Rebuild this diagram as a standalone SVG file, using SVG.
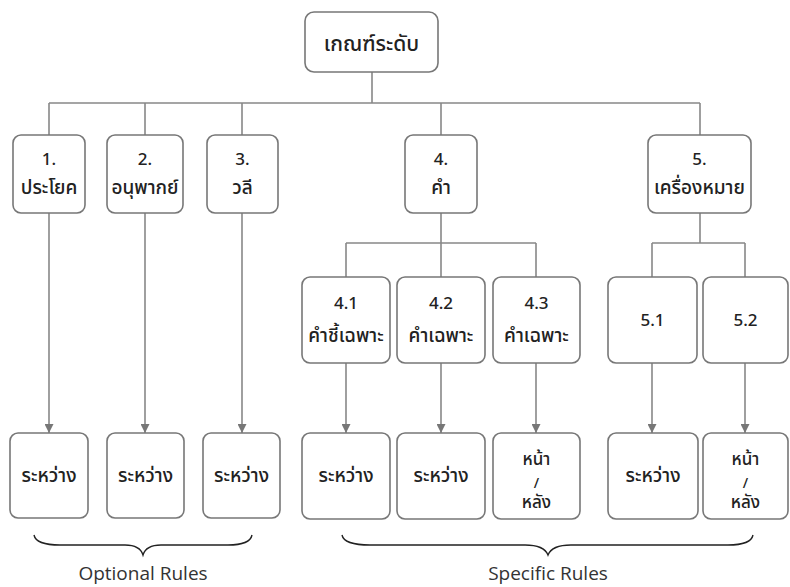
<svg xmlns="http://www.w3.org/2000/svg" width="790" height="587" viewBox="0 0 790 587">
<defs>
<style>
.box{fill:#fff;stroke:#777;stroke-width:1.6}
.ln{fill:none;stroke:#888;stroke-width:1.6}
.br{fill:none;stroke:#222;stroke-width:1.4}
text{font-family:"Noto Sans","Noto Sans Thai","DejaVu Sans",sans-serif;font-size:19px;font-weight:500;fill:#222;text-anchor:middle}
.num{font-size:17px}
.sm{font-size:17px}
.sl{font-size:14px}
.root{font-size:21px}
.cap{font-family:"Open Sans","Noto Sans",sans-serif;font-size:19px;font-weight:400;fill:#333}
</style>
<marker id="ah" viewBox="0 0 10 10" refX="10" refY="5" markerWidth="9" markerHeight="9" markerUnits="userSpaceOnUse" orient="auto">
<path d="M0,0 L10,5 L0,10 z" fill="#777"/>
</marker>
</defs>
<g id="connectors">
<path class="ln" d="M372,72 V103 M49,103 H700 M49,103 V135 M145,103 V135 M242,103 V135 M441,103 V135 M700,103 V135"/>
<path class="ln" d="M441,213 V243 M346,243 H536 M346,243 V277 M441,243 V277 M536,243 V277"/>
<path class="ln" d="M700,213 V243 M652,243 H745 M652,243 V277 M745,243 V277"/>
<line class="ln" x1="49" y1="213" x2="49" y2="433" marker-end="url(#ah)"/>
<line class="ln" x1="145" y1="213" x2="145" y2="433" marker-end="url(#ah)"/>
<line class="ln" x1="242" y1="213" x2="242" y2="433" marker-end="url(#ah)"/>
<line class="ln" x1="346" y1="363" x2="346" y2="433" marker-end="url(#ah)"/>
<line class="ln" x1="441" y1="363" x2="441" y2="433" marker-end="url(#ah)"/>
<line class="ln" x1="536" y1="363" x2="536" y2="433" marker-end="url(#ah)"/>
<line class="ln" x1="652" y1="363" x2="652" y2="433" marker-end="url(#ah)"/>
<line class="ln" x1="745" y1="363" x2="745" y2="433" marker-end="url(#ah)"/>
</g>
<g id="root"><rect class="box" x="305" y="12" width="133" height="60" rx="9"/><text class="root" x="371.5" y="51">เกณฑ์ระดับ</text></g>
<g id="n1"><rect class="box" x="13" y="135" width="72" height="78" rx="8"/><text class="num" x="49" y="165">1.</text><text x="49" y="194">ประโยค</text></g>
<g id="n2"><rect class="box" x="107" y="135" width="76" height="78" rx="8"/><text class="num" x="145" y="165">2.</text><text x="145" y="194">อนุพากย์</text></g>
<g id="n3"><rect class="box" x="207" y="135" width="71" height="78" rx="8"/><text class="num" x="242.5" y="165">3.</text><text x="242.5" y="194">วลี</text></g>
<g id="n4"><rect class="box" x="405" y="135" width="72" height="78" rx="8"/><text class="num" x="441" y="165">4.</text><text x="441" y="194">คำ</text></g>
<g id="n5"><rect class="box" x="648" y="135" width="103" height="78" rx="8"/><text class="num" x="699.5" y="165">5.</text><text x="699.5" y="194">เครื่องหมาย</text></g>
<g id="n41"><rect class="box" x="302" y="277" width="88" height="86" rx="8"/><text class="num" x="346" y="309">4.1</text><text x="346" y="342">คำชี้เฉพาะ</text></g>
<g id="n42"><rect class="box" x="397" y="277" width="88" height="86" rx="8"/><text class="num" x="441" y="309">4.2</text><text x="441" y="342">คำเฉพาะ</text></g>
<g id="n43"><rect class="box" x="493" y="277" width="87" height="86" rx="8"/><text class="num" x="536.5" y="309">4.3</text><text x="536.5" y="342">คำเฉพาะ</text></g>
<g id="n51"><rect class="box" x="608" y="277" width="89" height="86" rx="8"/><text class="num" x="652.5" y="326">5.1</text></g>
<g id="n52"><rect class="box" x="703" y="277" width="85" height="86" rx="8"/><text class="num" x="745.5" y="326">5.2</text></g>
<g id="b1"><rect class="box" x="10" y="433" width="78" height="85" rx="8"/><text x="49" y="482">ระหว่าง</text></g>
<g id="b2"><rect class="box" x="107" y="433" width="77" height="85" rx="8"/><text x="145.5" y="482">ระหว่าง</text></g>
<g id="b3"><rect class="box" x="203" y="433" width="77" height="85" rx="8"/><text x="241.5" y="482">ระหว่าง</text></g>
<g id="b41"><rect class="box" x="302" y="433" width="88" height="86" rx="8"/><text x="346" y="482">ระหว่าง</text></g>
<g id="b42"><rect class="box" x="397" y="433" width="88" height="86" rx="8"/><text x="441" y="482">ระหว่าง</text></g>
<g id="b43"><rect class="box" x="493" y="433" width="87" height="86" rx="8"/><text class="sm" x="536.5" y="465">หน้า</text><text class="sl" x="536.5" y="488">/</text><text class="sm" x="536.5" y="508">หลัง</text></g>
<g id="b51"><rect class="box" x="608" y="433" width="90" height="86" rx="8"/><text x="653" y="482">ระหว่าง</text></g>
<g id="b52"><rect class="box" x="703" y="433" width="85" height="86" rx="8"/><text class="sm" x="745.5" y="465">หน้า</text><text class="sl" x="745.5" y="488">/</text><text class="sm" x="745.5" y="508">หลัง</text></g>
<g id="brace-optional">
<path class="br" d="M34,535 Q36,545 60,545 L125,545 Q140,545 143,555 Q146,545 161,545 L228,545 Q250,545 252,535"/>
<text class="cap" x="143" y="580">Optional Rules</text>
</g>
<g id="brace-specific">
<path class="br" d="M342,535 Q344,545 370,545 L525,545 Q544,545 548,555 Q552,545 571,545 L728,545 Q751,545 753,535"/>
<text class="cap" x="548" y="580">Specific Rules</text>
</g>
</svg>
